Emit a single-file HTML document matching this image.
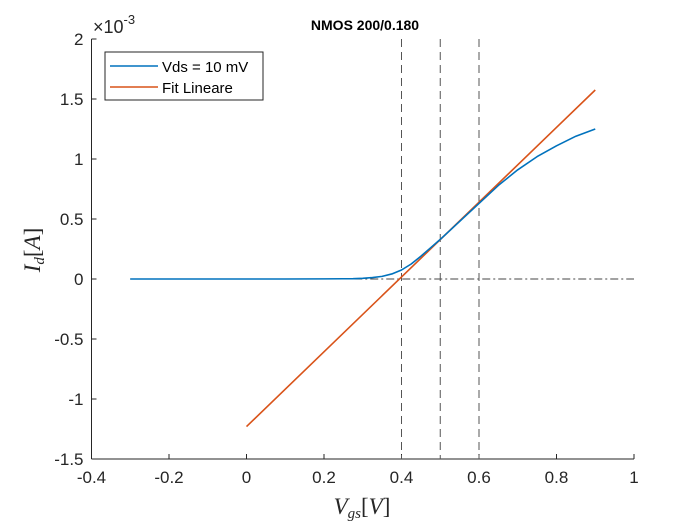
<!DOCTYPE html>
<html><head><meta charset="utf-8"><style>
body{margin:0;background:#fff}
svg{display:block;font-family:"Liberation Sans",sans-serif}
</style></head><body>
<svg id="chart" width="700" height="525" viewBox="0 0 700 525">
<rect width="700" height="525" fill="#fff"/>
</svg>
<script>
const xTicks=[-0.4,-0.2,0,0.2,0.4,0.6,0.8,1];
const yTicks=[-1.5,-1,-0.5,0,0.5,1,1.5,2];
const blueX=[-0.3,-0.2,-0.1,0,0.1,0.2,0.25,0.275,0.3,0.325,0.35,0.375,0.4,0.425,0.45,0.475,0.5,0.55,0.6,0.65,0.7,0.75,0.8,0.85,0.9];
const blueY=[0,0,0,0,0,0.001,0.002,0.003,0.006,0.012,0.022,0.042,0.075,0.125,0.19,0.26,0.33,0.48,0.63,0.78,0.91,1.02,1.11,1.19,1.25];
const fitX=[0,0.9];
const fitY=[-1.23,1.575];
const vLines=[0.4,0.5,0.6];
const X0=91.5,X1=634,Y0=459,Y1=39;
const sx=v=>X0+(v+0.4)/1.4*(X1-X0);
const sy=v=>Y0-(v+1.5)/3.5*(Y0-Y1);
const svg=document.getElementById('chart');
const NS='http://www.w3.org/2000/svg';
function mk(t,a,p){const e=document.createElementNS(NS,t);for(const k in a)e.setAttribute(k,a[k]);(p||svg).appendChild(e);return e;}
let e=mk('line',{x1:X0,y1:Y1,x2:X0,y2:Y0,stroke:'#262626','stroke-width':1});


e=mk('line',{x1:X0,y1:Y0,x2:X1,y2:Y0,stroke:'#262626','stroke-width':1});


xTicks.forEach(v=>{const x=sx(v);
 mk('line',{x1:x,y1:Y0,x2:x,y2:Y0-5,stroke:'#262626'});
 const t=mk('text',{x:x,y:Y0+24,'text-anchor':'middle','font-size':17,fill:'#262626'});t.textContent=String(v);
 
 
});
yTicks.forEach(v=>{const y=sy(v);
 mk('line',{x1:X0,y1:y,x2:X0+5,y2:y,stroke:'#262626'});
 const t=mk('text',{x:X0-8,y:y+6,'text-anchor':'end','font-size':17,fill:'#262626'});t.textContent=String(v);
 
 
});
e=mk('line',{x1:sx(-0.3),y1:sy(0),x2:X1,y2:sy(0),stroke:'#444','stroke-width':1,'stroke-dasharray':'8,3,2,3'});


vLines.forEach(v=>{const l=mk('line',{x1:sx(v),y1:Y1,x2:sx(v),y2:Y0,stroke:'#555','stroke-width':1,'stroke-dasharray':'8,5'});
 
 
});
e=mk('polyline',{points:fitX.map((x,i)=>sx(x)+','+sy(fitY[i])).join(' '),fill:'none',stroke:'#D95319','stroke-width':1.6});


e=mk('polyline',{points:blueX.map((x,i)=>sx(x)+','+sy(blueY[i])).join(' '),fill:'none',stroke:'#0072BD','stroke-width':1.6,'stroke-linejoin':'round'});


</script>
<svg width="700" height="525" style="position:absolute;left:0;top:0">
<text x="365" y="30" text-anchor="middle" font-size="14" font-weight="bold" font-family="Liberation Sans,sans-serif" fill="#000">NMOS 200/0.180</text>
<text x="93" y="33" font-size="18" font-family="Liberation Sans,sans-serif" fill="#262626">×10<tspan dy="-9" font-size="13">-3</tspan></text>
<g>
<rect x="105" y="52" width="158" height="48" fill="#fff" stroke="#262626" stroke-width="1"/>
<line x1="110" y1="66" x2="158" y2="66" stroke="#0072BD" stroke-width="1.6"/>
<text x="162" y="72" font-size="15" font-family="Liberation Sans,sans-serif" fill="#000">Vds = 10 mV</text>
<line x1="110" y1="87" x2="158" y2="87" stroke="#D95319" stroke-width="1.6"/>
<text x="162" y="93" font-size="15" font-family="Liberation Sans,sans-serif" fill="#000">Fit Lineare</text>
</g>
<text x="362" y="514" text-anchor="middle" font-size="23" font-style="italic" font-family="Liberation Serif,serif" fill="#262626">V<tspan font-size="15" dy="4">gs</tspan><tspan dy="-4" font-style="normal">[</tspan>V<tspan font-style="normal">]</tspan></text>
<text transform="translate(40,250) rotate(-90)" text-anchor="middle" font-size="23" font-style="italic" font-family="Liberation Serif,serif" fill="#262626">I<tspan font-size="15" dy="4">d</tspan><tspan dy="-4" font-style="normal">[</tspan>A<tspan font-style="normal">]</tspan></text>
</svg>
</body></html>
